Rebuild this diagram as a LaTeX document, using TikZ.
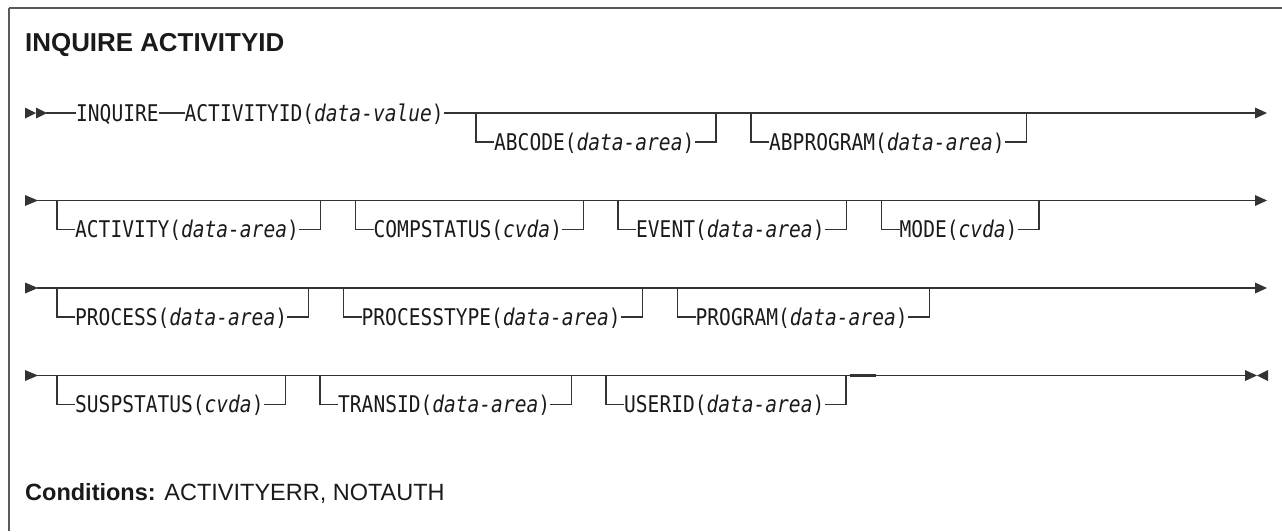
\documentclass[tikz,border=0pt]{standalone}
\usepackage{fontspec}
\setmainfont{Liberation Sans}
\newfontfamily\synmono[FakeStretch=0.85,ItalicFont={DejaVu Sans Mono Oblique}]{DejaVu Sans Mono}
\usetikzlibrary{calc}
\definecolor{lnc}{HTML}{333333}
\definecolor{txc}{HTML}{1A1A1A}
\definecolor{bdc}{HTML}{5A5A5A}
\tikzset{
  kw/.style={font=\synmono\fontsize{23}{23}\selectfont, text=txc, inner sep=0pt,
             text height=16.8pt, text depth=0pt, anchor=west},
  rl/.style={draw=lnc, line width=1.4pt},
  tipfill/.style={fill=lnc, draw=none},
  border/.style={draw=bdc, line width=1.8pt},
}
\newcommand\var[1]{{\itshape #1}}
% optional branch: #1 name, #2 drop x, #3 row y, #4 text
\newcommand\optbr[4]{%
  \coordinate (#1d) at (#2,#3);
  \node[kw] (#1) at (#2+18,#3+29) {#4};
  \coordinate (#1r) at ($(#1.east)+(21.5,-29)$);
  \draw[rl] (#1d) |- (#1.west);
  \draw[rl] (#1.east) -| (#1r);
}
\begin{document}
\begin{tikzpicture}[x=1pt,y=-1pt]
\useasboundingbox (0,0) rectangle (1282,531);
% frame
\draw[border] (9,8) -- (1282,8);
\draw[border] (9,8) -- (9,531);
% title
\node[anchor=base west, inner sep=0pt, text=txc, font=\bfseries\fontsize{25.9}{30}\selectfont] (title) at (25,51.5) {INQUIRE ACTIVITYID};

% ---------- row 1
\fill[tipfill] (25,107.5) -- (36,113) -- (25,118.5) -- cycle;
\fill[tipfill] (36,107.5) -- (47,113) -- (36,118.5) -- cycle;
\coordinate (r1a) at (46,113);
\node[kw] (inq) at (76,113) {INQUIRE};
\node[kw] (actid) at (184.5,113) {ACTIVITYID(\var{data-value})};
\coordinate (r1b) at (1256,113);
\draw[rl] (r1a) -- (inq.west);
\draw[rl] (inq.east) -- (actid.west);
\draw[rl] (actid.east) -- (r1b);
\fill[tipfill] (1255,107.5) -- (1267,113) -- (1255,118.5) -- cycle;
\optbr{abc}{476}{113}{ABCODE(\var{data-area})}
\optbr{abp}{751}{113}{ABPROGRAM(\var{data-area})}

% ---------- row 2
\fill[tipfill] (25,195) -- (38,200.5) -- (25,206) -- cycle;
\coordinate (r2a) at (37,200.5);
\coordinate (r2b) at (1256,200.5);
\draw[rl] (r2a) -- (r2b);
\fill[tipfill] (1255,195) -- (1267,200.5) -- (1255,206) -- cycle;
\optbr{act}{57}{200.5}{ACTIVITY(\var{data-area})}
\optbr{cmp}{355.5}{200.5}{COMPSTATUS(\var{cvda})}
\optbr{evt}{618}{200.5}{EVENT(\var{data-area})}
\optbr{mod}{881.5}{200.5}{MODE(\var{cvda})}

% ---------- row 3
\fill[tipfill] (25,282.5) -- (38,288) -- (25,293.5) -- cycle;
\coordinate (r3a) at (37,288);
\coordinate (r3b) at (1256,288);
\draw[rl] (r3a) -- (r3b);
\fill[tipfill] (1255,282.5) -- (1267,288) -- (1255,293.5) -- cycle;
\optbr{prc}{57}{288}{PROCESS(\var{data-area})}
\optbr{prt}{343.5}{288}{PROCESSTYPE(\var{data-area})}
\optbr{prg}{677.5}{288}{PROGRAM(\var{data-area})}

% ---------- row 4
\fill[tipfill] (25,370) -- (38,375.5) -- (25,381) -- cycle;
\coordinate (r4a) at (37,375.5);
\coordinate (r4b) at (1246,375.5);
\draw[rl] (r4a) -- (r4b);
\fill[tipfill] (1245,370) -- (1257,375.5) -- (1245,381) -- cycle;
\fill[tipfill] (1268,370) -- (1257,375.5) -- (1268,381) -- cycle;
\optbr{ssp}{57}{375.5}{SUSPSTATUS(\var{cvda})}
\optbr{trn}{320}{375.5}{TRANSID(\var{data-area})}
\optbr{usr}{606}{375.5}{USERID(\var{data-area})}
\coordinate (dk1) at (850,375.5);
\coordinate (dk2) at (876,375.5);
\draw[draw=lnc, line width=2.2pt] (dk1) -- (dk2);

% conditions
\node[anchor=base west, inner sep=0pt, text=txc, font=\fontsize{23.5}{27}\selectfont] (cond) at (25,500) {\textbf{Conditions:} ACTIVITYERR, NOTAUTH};
\end{tikzpicture}
\end{document}
